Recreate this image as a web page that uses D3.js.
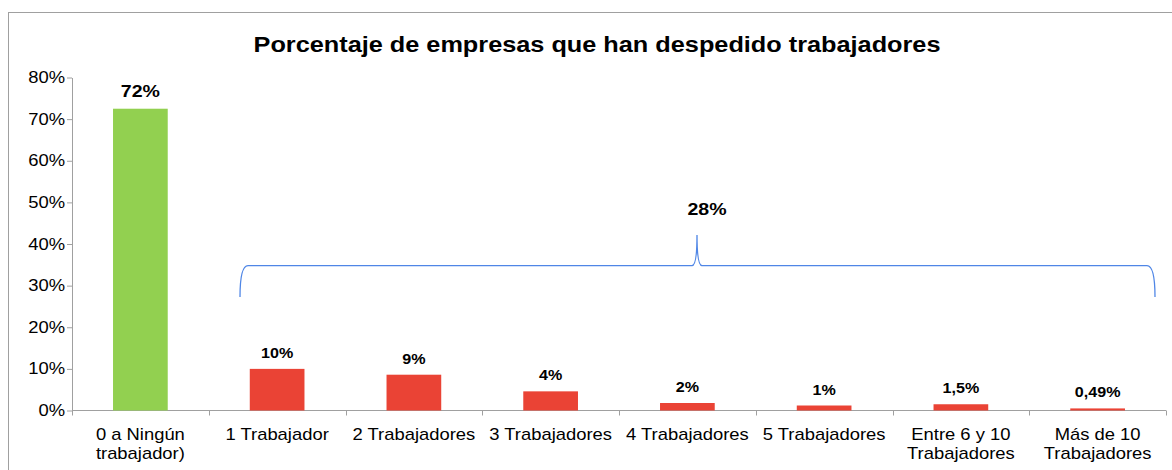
<!DOCTYPE html>
<html><head><meta charset="utf-8">
<script src="https://cdn.jsdelivr.net/npm/d3@7"></script>
<style>body{margin:0;background:#fff;}svg{display:block;font-family:"Liberation Sans",Arial,sans-serif;}</style>
</head><body>
<script>
const categories = [["0 a Ningún","trabajador)"],["1 Trabajador"],["2 Trabajadores"],["3 Trabajadores"],["4 Trabajadores"],["5 Trabajadores"],["Entre 6 y 10","Trabajadores"],["Más de 10","Trabajadores"]];
const values = [72.5, 10, 8.6, 4.6, 1.8, 1.2, 1.5, 0.5];
const valueLabels = ["72%","10%","9%","4%","2%","1%","1,5%","0,49%"];
const yTicks = [0,10,20,30,40,50,60,70,80];
const groupValue = 28;
const groupLabel = "28%";
const title = "Porcentaje de empresas que han despedido trabajadores";

const W = 1172, H = 470;
const SX = 1.15;
const svg = d3.select("body").append("svg").attr("width", W).attr("height", H);
svg.append("rect").attr("x",8.5).attr("y",12.5).attr("width",W+10).attr("height",H+10)
  .attr("fill","#fff").attr("stroke","#a0a0a0").attr("stroke-width",1);

function stext(g, xx, yy, str, size, anchor, bold){
  return g.append("text").attr("transform",`translate(${xx},${yy}) scale(${SX},1)`)
    .attr("text-anchor",anchor).attr("font-size",size)
    .attr("font-weight",bold?"bold":"normal").attr("fill","#000").text(str);
}

const x0 = 72, x1 = 1166, yTop = 77.5, yBot = 410.5;
const x = d3.scaleBand().domain(d3.range(categories.length)).range([x0, x1]).paddingInner(0.6).paddingOuter(0.3);
const xb = d3.scaleBand().domain(d3.range(categories.length)).range([x0, x1]);
const y = d3.scaleLinear().domain([0,80]).range([yBot, yTop]);

stext(svg, 597, 52, title, 22, "middle", true);

// y axis
const ya = svg.append("g").attr("transform",`translate(${x0},0)`)
  .call(d3.axisLeft(y).tickValues(yTicks).tickFormat("").tickSize(5).tickSizeOuter(0));
ya.select(".domain").attr("stroke","#a0a0a0");
ya.selectAll(".tick line").attr("stroke","#a0a0a0");
yTicks.forEach(t=>stext(svg, 65, y(t)+5.5, t+"%", 16, "end", false));

// x axis line and ticks
svg.append("line").attr("x1",x0).attr("x2",x1).attr("y1",yBot).attr("y2",yBot).attr("stroke","#a0a0a0");
svg.selectAll(".xt").data(d3.range(categories.length+1)).join("line")
  .attr("x1",d=>Math.round(x0 + d*xb.step())+0.5).attr("x2",d=>Math.round(x0 + d*xb.step())+0.5)
  .attr("y1",yBot).attr("y2",yBot+5).attr("stroke","#a0a0a0");

// bars
svg.selectAll(".bar").data(values).join("rect")
  .attr("x",(d,i)=>x(i)).attr("width",x.bandwidth())
  .attr("y",d=>y(d)).attr("height",d=>yBot-y(d))
  .attr("fill",(d,i)=>i===0?"#92d050":"#ea4335");

// value labels
values.forEach((d,i)=>{
  stext(svg, x(i)+x.bandwidth()/2, y(d)-(i===0?12:11), valueLabels[i], i===0?17:14, "middle", true);
});

// category labels
categories.forEach((lines,i)=>{
  lines.forEach((l,k)=>stext(svg, xb(i)+xb.bandwidth()/2, 440+k*19, l, 16, "middle", false));
});

// brace
const bx1 = 240, bx2 = 1155, by = 265.7, bEnd = 297, bTip = 697, bTipY = 235;
const r = 8;
const p = d3.path();
p.moveTo(bx1, bEnd);
p.quadraticCurveTo(bx1, by, bx1+r, by);
p.lineTo(bTip-5, by);
p.quadraticCurveTo(bTip, by, bTip, bTipY);
p.quadraticCurveTo(bTip, by, bTip+5, by);
p.lineTo(bx2-r, by);
p.quadraticCurveTo(bx2, by, bx2, bEnd);
svg.append("path").attr("d",p.toString()).attr("fill","none").attr("stroke","#4f86e6").attr("stroke-width",1.3);

stext(svg, 707, 215, groupLabel, 17, "middle", true);
</script>
</body></html>
